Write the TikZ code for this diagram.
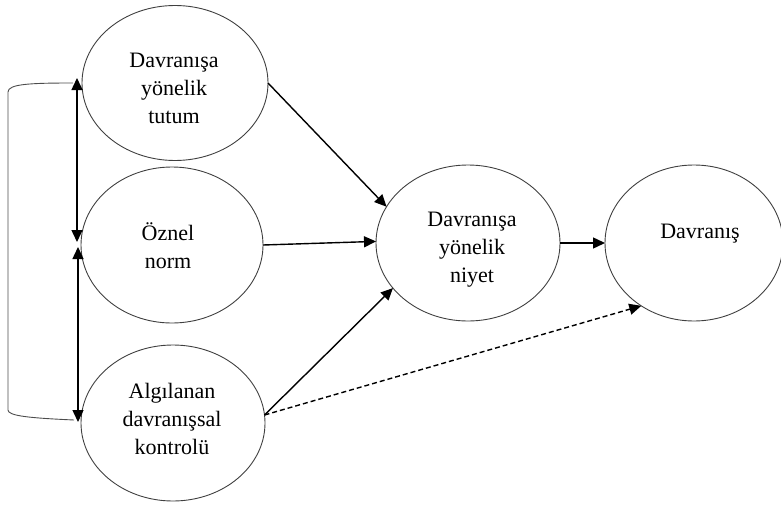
\documentclass[tikz,border=0pt]{standalone}
\usepackage{fontspec}
\setmainfont{Liberation Serif}
\usetikzlibrary{shapes.geometric,arrows.meta}
\begin{document}
\begin{tikzpicture}[x=1pt,y=-1pt,
  ell/.style={draw=black!75,line width=0.9pt,ellipse,inner sep=0pt,outer sep=0pt},
  lbl/.style={font=\fontsize{22}{28}\selectfont,align=center,inner sep=0pt},
  tip/.style={},
  arr/.style={line width=1.4pt,-{Triangle[length=12pt,width=11pt]}},
  darr/.style={line width=1.4pt,{Triangle[length=12pt,width=11pt]}-{Triangle[length=12pt,width=11pt]}},
  dsh/.style={arr,dash pattern=on 5pt off 3pt},
  brk/.style={draw=black!70,line width=0.9pt}]
\useasboundingbox (0,0) rectangle (781,506);
% ellipses
\node[ell,minimum width=186pt,minimum height=155pt] (t) at (175,83) {};
\node[ell,minimum width=182pt,minimum height=156pt] (o) at (172,245) {};
\node[ell,minimum width=184pt,minimum height=156pt] (a) at (173,423) {};
\node[ell,minimum width=184pt,minimum height=156pt] (n) at (468,243) {};
\node[ell,minimum width=178pt,minimum height=156pt] (d) at (694,243) {};
% texts
\node[lbl] (tl) at (174,88) {Davranışa\\yönelik\\tutum};
\node[lbl] (ol) at (168,246) {Öznel\\norm};
\node[lbl] (al) at (172,419) {Algılanan\\davranışsal\\kontrolü};
\node[lbl] (nl) at (472,250) {Davranışa\\yönelik\\niyet};
\node[lbl] (dl) at (700,234) {Davranış};
% arrows
\draw[arr] (t.east) -- (n.156);
\draw[arr] (o.east) -- (n.179);
\draw[arr] (a.5) -- (n.211);
\draw[arr] (n.east) -- (d.west);
\draw[dsh] (a.5) -- (d.230);
% left double arrows
\coordinate (p1) at (77,78);
\coordinate (p2) at (77,242);
\coordinate (p3) at (78,247);
\coordinate (p4) at (78,422);
\draw[darr] (p1) -- (p2);
\draw[darr] (p3) -- (p4);
% bracket
\coordinate (b1) at (73,83);
\coordinate (b4) at (74,420);
\draw[brk] (b1) .. controls (30,83) and (8,84) .. (8,92) -- (8,410) .. controls (8,416) and (30,418) .. (b4);
\end{tikzpicture}
\end{document}
